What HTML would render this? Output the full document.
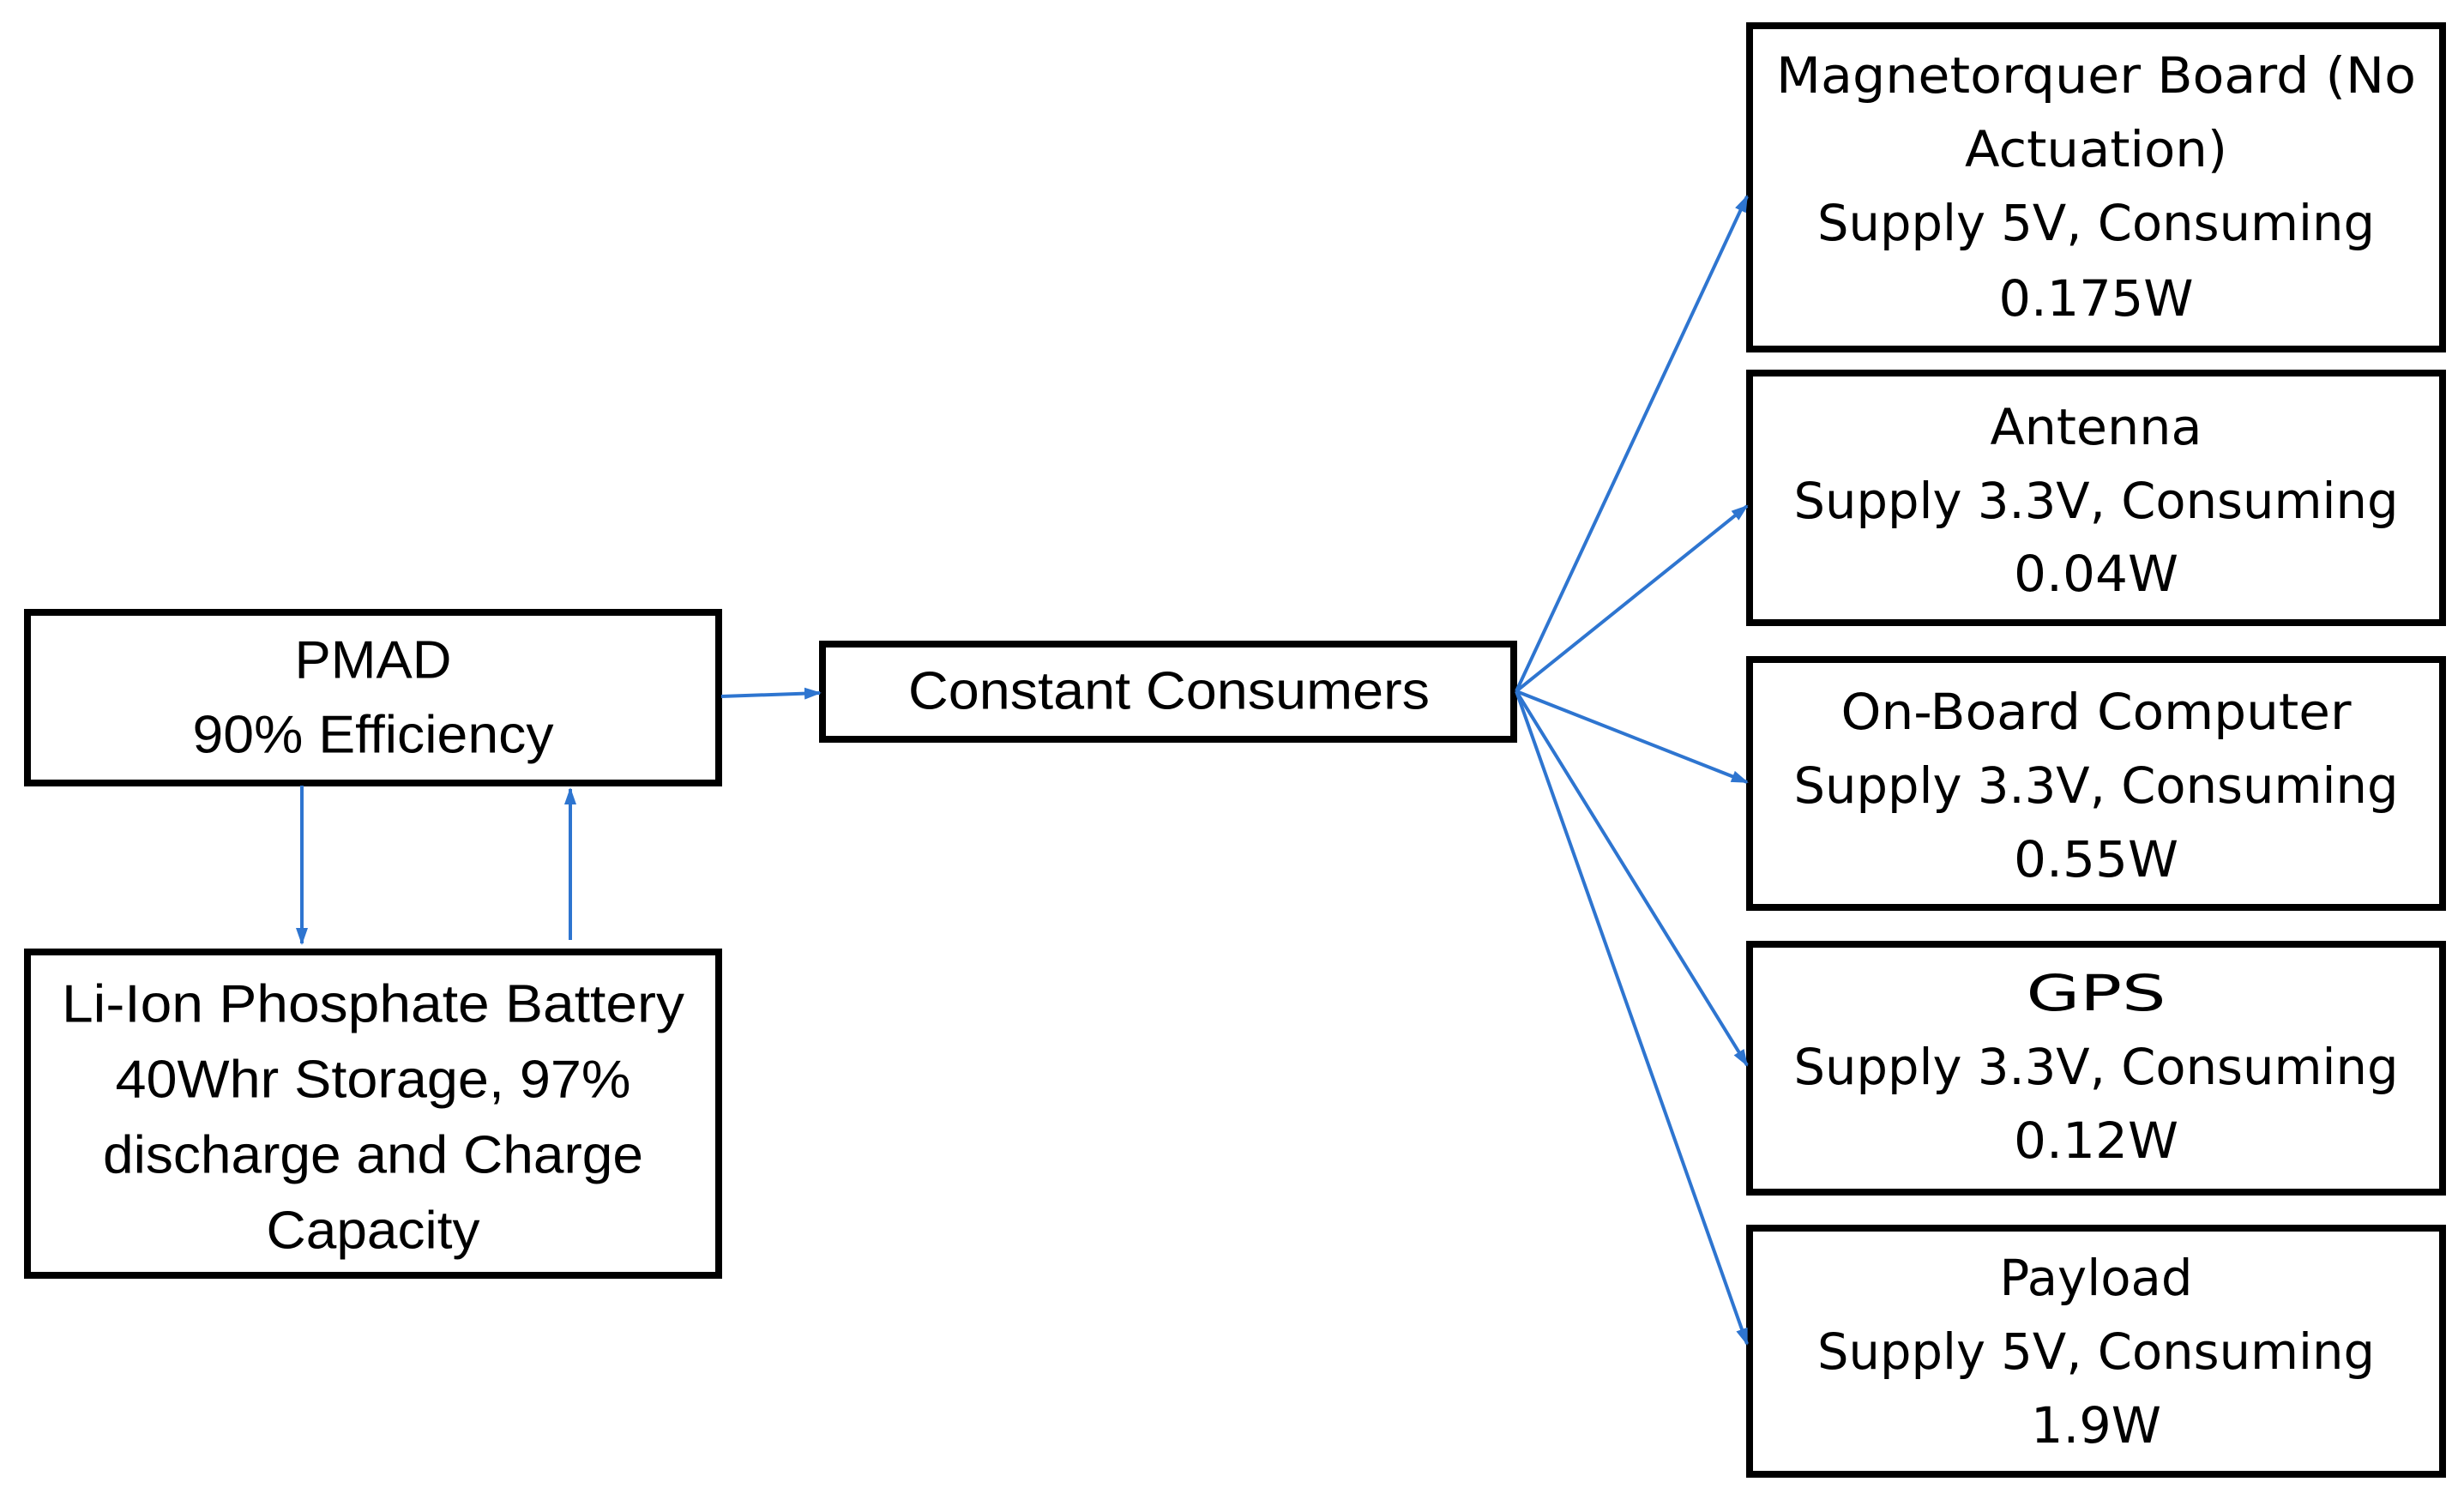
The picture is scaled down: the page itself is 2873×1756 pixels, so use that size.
<!DOCTYPE html>
<html><head><meta charset="utf-8"><style>html,body{margin:0;padding:0;background:#fff}svg{display:block}</style></head><body>
<svg width="2873" height="1756" viewBox="0 0 2873 1756" xmlns="http://www.w3.org/2000/svg">
<defs><marker id="a" markerWidth="20" markerHeight="14" refX="18" refY="7" orient="auto" markerUnits="userSpaceOnUse"><path d="M0,0 L20,7 L0,14 Z" fill="#2E75D0"/></marker></defs>
<g fill="#fff" stroke="#000" stroke-width="8">
<rect x="32" y="714" width="806" height="199"/>
<rect x="959" y="751" width="806" height="111"/>
<rect x="32" y="1110" width="806" height="377"/>
<rect x="2040" y="30" width="808" height="377"/>
<rect x="2040" y="435" width="808" height="291"/>
<rect x="2040" y="769" width="808" height="289"/>
<rect x="2040" y="1101" width="808" height="289"/>
<rect x="2040" y="1432" width="808" height="287"/>
</g>
<g stroke="#2E75D0" stroke-width="4" fill="none" marker-end="url(#a)">
<line x1="841" y1="812" x2="956" y2="808"/>
<line x1="352" y1="916" x2="352" y2="1100"/>
<line x1="665" y1="1096" x2="665" y2="920"/>
<line x1="1768" y1="806" x2="2037" y2="229"/>
<line x1="1768" y1="806" x2="2037" y2="590"/>
<line x1="1768" y1="806" x2="2037" y2="912"/>
<line x1="1768" y1="806" x2="2037" y2="1242"/>
<line x1="1768" y1="806" x2="2037" y2="1567"/>
</g>
<g font-family="Liberation Sans, sans-serif" font-size="62" fill="#000" text-anchor="middle" dominant-baseline="central">
<text x="435" y="770" textLength="183" lengthAdjust="spacingAndGlyphs">PMAD</text>
<text x="435" y="857" textLength="421" lengthAdjust="spacingAndGlyphs">90% Efficiency</text>
<text x="1363" y="806" textLength="608" lengthAdjust="spacingAndGlyphs">Constant Consumers</text>
<text x="435" y="1171" textLength="726" lengthAdjust="spacingAndGlyphs">Li-Ion Phosphate Battery</text>
<text x="435" y="1259" textLength="601" lengthAdjust="spacingAndGlyphs">40Whr Storage, 97%</text>
<text x="435" y="1347" textLength="630" lengthAdjust="spacingAndGlyphs">discharge and Charge</text>
<text x="435" y="1435" textLength="249" lengthAdjust="spacingAndGlyphs">Capacity</text>
</g>
<g font-family="DejaVu Sans, sans-serif" font-size="58" fill="#000" text-anchor="middle" dominant-baseline="central">
<text x="2444" y="88" textLength="746" lengthAdjust="spacingAndGlyphs">Magnetorquer Board (No</text>
<text x="2444" y="174" textLength="306" lengthAdjust="spacingAndGlyphs">Actuation)</text>
<text x="2444" y="260" textLength="650" lengthAdjust="spacingAndGlyphs">Supply 5V, Consuming</text>
<text x="2444" y="348" textLength="227" lengthAdjust="spacingAndGlyphs">0.175W</text>
<text x="2444" y="498" textLength="247" lengthAdjust="spacingAndGlyphs">Antenna</text>
<text x="2444" y="584" textLength="705" lengthAdjust="spacingAndGlyphs">Supply 3.3V, Consuming</text>
<text x="2444" y="669" textLength="192" lengthAdjust="spacingAndGlyphs">0.04W</text>
<text x="2444" y="830" textLength="595" lengthAdjust="spacingAndGlyphs">On-Board Computer</text>
<text x="2444" y="916" textLength="705" lengthAdjust="spacingAndGlyphs">Supply 3.3V, Consuming</text>
<text x="2444" y="1002" textLength="192" lengthAdjust="spacingAndGlyphs">0.55W</text>
<text x="2444" y="1158" textLength="163" lengthAdjust="spacingAndGlyphs">GPS</text>
<text x="2444" y="1244" textLength="705" lengthAdjust="spacingAndGlyphs">Supply 3.3V, Consuming</text>
<text x="2444" y="1330" textLength="192" lengthAdjust="spacingAndGlyphs">0.12W</text>
<text x="2444" y="1490" textLength="225" lengthAdjust="spacingAndGlyphs">Payload</text>
<text x="2444" y="1576" textLength="650" lengthAdjust="spacingAndGlyphs">Supply 5V, Consuming</text>
<text x="2444" y="1662" textLength="152" lengthAdjust="spacingAndGlyphs">1.9W</text>
</g>
</svg>
</body></html>
